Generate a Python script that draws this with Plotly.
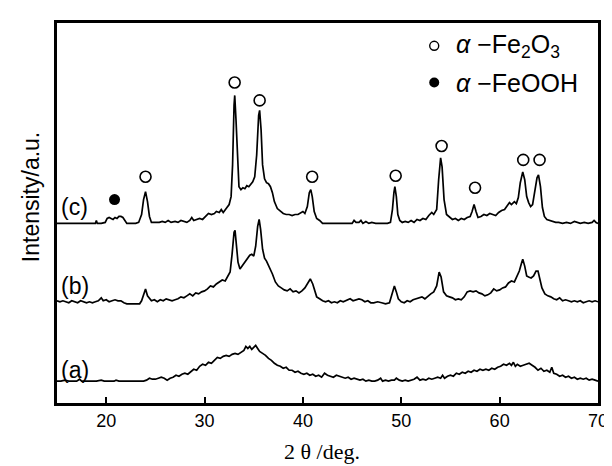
import plotly.graph_objects as go

# ---- data: 2-theta (deg) and intensity (arbitrary, offset) ----
c_pts = [(15.0,181),(15.5,181),(16.0,181),(16.5,181),(17.0,181),(17.5,181),(18.0,181),(18.5,181),(18.9,181),(19.0,184),(19.1,181),(19.5,181),(19.9,182),(20.1,186),(20.3,187),(20.5,186),(20.7,185),(20.9,187),(21.1,186),(21.3,188),(21.5,188),(21.7,187),(21.9,184),(22.1,181),(22.5,181),(23.0,181),(23.3,182),(23.6,190),(23.8,205),(24.0,213),(24.2,203),(24.4,188),(24.6,182),(25.0,182),(25.4,182),(25.7,183),(26.0,182),(26.3,184),(26.6,182),(27.0,183),(27.3,182),(27.6,184),(27.9,183),(28.2,182),(28.5,184),(28.7,187),(28.9,184),(29.2,185),(29.5,186),(29.8,185),(30.1,188),(30.4,191),(30.7,190),(31.0,191),(31.2,193),(31.5,192),(31.7,195),(31.9,192),(32.2,196),(32.5,200),(32.7,208),(32.85,240),(33.0,300),(33.07,310),(33.2,285),(33.35,240),(33.5,218),(33.7,215),(33.9,217),(34.1,216),(34.3,219),(34.5,218),(34.7,221),(34.9,223),(35.1,228),(35.3,250),(35.5,290),(35.6,295),(35.75,275),(35.9,240),(36.1,226),(36.3,222),(36.5,221),(36.7,218),(36.9,212),(37.1,203),(37.4,196),(37.7,193),(38.0,191),(38.3,190),(38.6,190),(38.9,189),(39.2,190),(39.5,190),(39.8,192),(40.0,193),(40.2,191),(40.45,198),(40.65,212),(40.8,215),(40.95,208),(41.15,193),(41.4,186),(41.7,184),(42.0,181),(42.5,181),(43.0,181),(43.5,181),(44.0,181),(44.5,181),(45.0,181),(45.2,184),(45.4,182),(45.7,182),(45.9,184),(46.1,181),(46.4,183),(46.7,181),(47.0,182),(47.4,181),(47.8,181),(48.2,181),(48.6,181),(48.9,182),(49.1,195),(49.25,212),(49.35,218),(49.5,208),(49.65,190),(49.85,184),(50.1,182),(50.4,183),(50.7,182),(51.0,184),(51.3,182),(51.6,185),(51.9,184),(52.2,186),(52.5,185),(52.8,189),(53.1,192),(53.3,190),(53.6,195),(53.8,225),(54.0,247),(54.15,238),(54.35,205),(54.6,190),(54.9,187),(55.2,185),(55.5,186),(55.8,184),(56.1,186),(56.4,185),(56.7,187),(57.0,188),(57.2,193),(57.4,200),(57.6,193),(57.8,187),(58.1,188),(58.4,190),(58.7,189),(59.0,191),(59.3,190),(59.6,189),(59.9,192),(60.2,194),(60.5,195),(60.8,199),(61.0,202),(61.2,200),(61.5,203),(61.7,201),(61.9,207),(62.1,222),(62.35,233),(62.55,225),(62.75,208),(62.95,202),(63.15,198),(63.35,200),(63.55,212),(63.8,227),(63.95,230),(64.15,218),(64.35,197),(64.55,188),(64.8,185),(65.1,184),(65.4,183),(65.7,182),(66.0,182),(66.4,181),(66.8,182),(67.2,181),(67.6,183),(67.9,182),(68.2,181),(68.6,182),(69.0,181),(69.4,182),(69.6,184),(69.8,182),(70.0,181)]

b_pts = [(15.0,103),(15.3,102),(15.6,103),(15.9,102),(16.2,101),(16.5,103),(16.8,102),(17.1,101),(17.4,103),(17.7,102),(18.0,101),(18.3,102),(18.6,101),(18.9,102),(19.2,103),(19.5,106),(19.7,103),(20.0,104),(20.3,102),(20.6,103),(20.9,104),(21.2,103),(21.5,103),(21.8,101),(22.1,100),(22.5,100),(23.0,100),(23.4,100),(23.6,103),(23.8,110),(24.0,115),(24.2,108),(24.4,106),(24.6,103),(24.9,104),(25.2,102),(25.5,104),(25.8,103),(26.1,105),(26.4,104),(26.7,103),(27.0,104),(27.3,105),(27.6,107),(27.9,106),(28.2,108),(28.5,110),(28.8,108),(29.1,111),(29.4,110),(29.7,112),(30.0,113),(30.3,115),(30.6,118),(30.9,117),(31.2,120),(31.5,122),(31.8,124),(32.1,123),(32.4,128),(32.6,132),(32.8,150),(33.0,172),(33.1,174),(33.25,160),(33.4,142),(33.6,135),(33.8,138),(34.0,141),(34.2,143),(34.4,146),(34.6,149),(34.8,150),(35.0,148),(35.2,158),(35.4,178),(35.55,185),(35.7,175),(35.9,155),(36.1,146),(36.3,143),(36.6,137),(36.9,130),(37.2,122),(37.5,118),(37.8,116),(38.1,114),(38.4,113),(38.7,115),(39.0,112),(39.3,113),(39.6,111),(39.9,113),(40.2,116),(40.5,121),(40.75,125),(41.0,120),(41.2,112),(41.4,107),(41.7,105),(42.0,103),(42.3,102),(42.6,103),(42.9,101),(43.2,102),(43.5,101),(43.8,103),(44.1,102),(44.5,104),(44.8,105),(45.1,103),(45.4,104),(45.7,105),(46.0,104),(46.3,102),(46.6,103),(46.9,101),(47.2,101),(47.6,102),(48.0,101),(48.4,100),(48.8,101),(49.0,108),(49.3,118),(49.5,112),(49.7,105),(50.0,102),(50.3,101),(50.6,103),(50.9,102),(51.2,104),(51.5,105),(51.8,106),(52.1,107),(52.4,105),(52.7,108),(53.0,110),(53.3,112),(53.6,118),(53.85,132),(54.05,127),(54.3,112),(54.6,108),(54.9,107),(55.2,106),(55.5,104),(55.8,105),(56.1,104),(56.4,107),(56.7,112),(57.0,113),(57.3,112),(57.6,113),(57.9,111),(58.2,110),(58.5,108),(58.8,109),(59.1,111),(59.4,115),(59.7,113),(60.0,114),(60.3,116),(60.6,117),(60.9,121),(61.2,123),(61.5,122),(61.8,128),(62.0,133),(62.2,140),(62.35,145),(62.55,138),(62.75,128),(62.95,127),(63.2,126),(63.45,128),(63.7,133),(63.9,133),(64.1,125),(64.3,116),(64.6,110),(64.9,108),(65.2,107),(65.5,105),(65.8,104),(66.1,106),(66.4,103),(66.7,104),(67.0,103),(67.3,102),(67.6,103),(67.9,102),(68.2,103),(68.5,101),(68.8,102),(69.1,103),(69.4,102),(69.7,103),(70.0,102)]

a_pts = [(15.0,22),(15.4,22),(15.8,23),(16.2,22),(16.6,22),(17.0,22),(17.3,24),(17.5,22),(18.0,22),(18.5,22),(19.0,22),(19.5,23),(19.8,22),(20.3,22),(20.8,22),(21.0,23),(21.3,22),(21.8,22),(22.3,22),(22.8,22),(23.3,22),(23.8,22),(24.1,23),(24.4,25),(24.7,24),(25.0,24),(25.3,25),(25.6,26),(25.9,25),(26.2,23),(26.5,25),(26.8,26),(27.1,28),(27.4,27),(27.7,29),(28.0,30),(28.3,29),(28.6,32),(28.9,34),(29.2,33),(29.5,37),(29.8,39),(30.1,38),(30.4,41),(30.7,40),(31.0,43),(31.3,46),(31.6,45),(31.9,47),(32.2,48),(32.5,47),(32.8,49),(33.1,50),(33.4,49),(33.7,51),(34.0,53),(34.2,57),(34.4,55),(34.6,57),(34.8,54),(35.0,56),(35.2,58),(35.4,55),(35.6,52),(35.9,50),(36.2,48),(36.5,45),(36.8,43),(37.1,40),(37.4,38),(37.7,37),(38.0,35),(38.3,36),(38.6,33),(38.9,33),(39.2,31),(39.5,32),(39.8,30),(40.1,29),(40.4,30),(40.7,28),(41.0,29),(41.3,27),(41.6,28),(41.9,26),(42.2,30),(42.5,28),(42.8,27),(43.1,26),(43.4,28),(43.7,27),(44.0,26),(44.3,25),(44.6,26),(44.9,24),(45.2,25),(45.5,24),(45.8,23),(46.1,24),(46.4,22),(46.7,23),(47.0,22),(47.3,22),(47.6,23),(47.9,25),(48.1,22),(48.4,23),(48.7,22),(49.0,23),(49.3,23),(49.5,25),(49.8,23),(50.1,22),(50.4,23),(50.7,22),(51.0,23),(51.3,24),(51.6,26),(51.9,23),(52.2,24),(52.5,23),(52.8,25),(53.1,24),(53.4,25),(53.7,26),(54.0,25),(54.2,28),(54.4,25),(54.7,27),(55.0,28),(55.3,27),(55.6,30),(55.9,29),(56.2,31),(56.5,30),(56.8,32),(57.1,31),(57.4,33),(57.7,32),(58.0,34),(58.3,33),(58.6,34),(58.9,33),(59.2,35),(59.5,34),(59.8,36),(60.1,37),(60.4,39),(60.7,38),(61.0,40),(61.2,38),(61.4,41),(61.6,37),(61.8,39),(62.1,37),(62.4,38),(62.7,39),(63.0,40),(63.3,38),(63.6,36),(63.9,33),(64.2,35),(64.5,32),(64.8,33),(65.1,31),(65.3,36),(65.5,30),(65.8,29),(66.1,27),(66.4,28),(66.7,26),(67.0,27),(67.3,25),(67.6,26),(67.9,24),(68.2,25),(68.5,24),(68.8,25),(69.1,23),(69.4,24),(69.7,23),(70.0,22)]

# peak markers (open = alpha-Fe2O3, filled = alpha-FeOOH)
fe2o3_x = [24.0, 33.06, 35.6, 40.94, 49.43, 54.1, 57.5, 62.4, 64.06]
fe2o3_y = [228, 323, 305, 228, 229, 259, 217, 245, 245]
feooh_x = [20.85]
feooh_y = [205]

curve_labels = ["(a)", "(b)", "(c)"]
curve_label_y = [33, 118, 198]
x_ticks = [20, 30, 40, 50, 60, 70]

fig = go.Figure()
for pts in (a_pts, b_pts, c_pts):
    fig.add_trace(go.Scatter(x=[p[0] for p in pts], y=[p[1] for p in pts], mode="lines",
                             line=dict(color="black", width=1.7), showlegend=False, hoverinfo="skip"))

fig.add_trace(go.Scatter(x=fe2o3_x, y=fe2o3_y, mode="markers", showlegend=False,
                         marker=dict(symbol="circle-open", size=11, color="black", line=dict(width=1.6))))
fig.add_trace(go.Scatter(x=feooh_x, y=feooh_y, mode="markers", showlegend=False,
                         marker=dict(symbol="circle", size=11, color="black")))

# legend (drawn inside the plot)
fig.add_trace(go.Scatter(x=[53.35], y=[360], mode="markers", showlegend=False,
                         marker=dict(symbol="circle-open", size=9, color="black", line=dict(width=1.4))))
fig.add_trace(go.Scatter(x=[53.35], y=[323], mode="markers", showlegend=False,
                         marker=dict(symbol="circle", size=10, color="black")))
fig.add_annotation(x=55.4, y=360, xref="x", yref="y", xanchor="left", yanchor="middle", showarrow=False,
                   text="<i>α</i> −Fe<sub>2</sub>O<sub>3</sub>",
                   font=dict(family="Liberation Sans", size=25, color="black"))
fig.add_annotation(x=55.4, y=323, xref="x", yref="y", xanchor="left", yanchor="middle", showarrow=False,
                   text="<i>α</i> −FeOOH",
                   font=dict(family="Liberation Sans", size=25, color="black"))

for lab, ly in zip(curve_labels, curve_label_y):
    fig.add_annotation(x=15.2, y=ly, xref="x", yref="y", xanchor="left", yanchor="middle", showarrow=False,
                       text=lab, font=dict(family="Liberation Sans", size=23, color="black"))

fig.add_annotation(x=-0.049, y=0.543, xref="paper", yref="paper", textangle=-90, showarrow=False,
                   xanchor="center", yanchor="middle", text="Intensity/a.u.",
                   font=dict(family="Liberation Sans", size=23, color="black"))
fig.add_annotation(x=0.49, y=-0.128, xref="paper", yref="paper", showarrow=False,
                   xanchor="center", yanchor="middle", text="2 θ /deg.",
                   font=dict(family="Liberation Serif", size=22, color="black"))

fig.update_xaxes(range=[15, 70], tickvals=x_ticks, ticks="inside", ticklen=6, tickwidth=1.5,
                 tickcolor="black", showline=True, mirror=True, linecolor="black", linewidth=2.5,
                 showgrid=False, zeroline=False,
                 tickfont=dict(family="Liberation Sans", size=18, color="black"))
fig.update_yaxes(range=[0, 383], showticklabels=False, ticks="", showline=True, mirror=True,
                 linecolor="black", linewidth=2.5, showgrid=False, zeroline=False)

fig.update_layout(width=612, height=466, margin=dict(l=49, r=14, t=12, b=71),
                  plot_bgcolor="white", paper_bgcolor="white")

fig.write_html("out.html")
